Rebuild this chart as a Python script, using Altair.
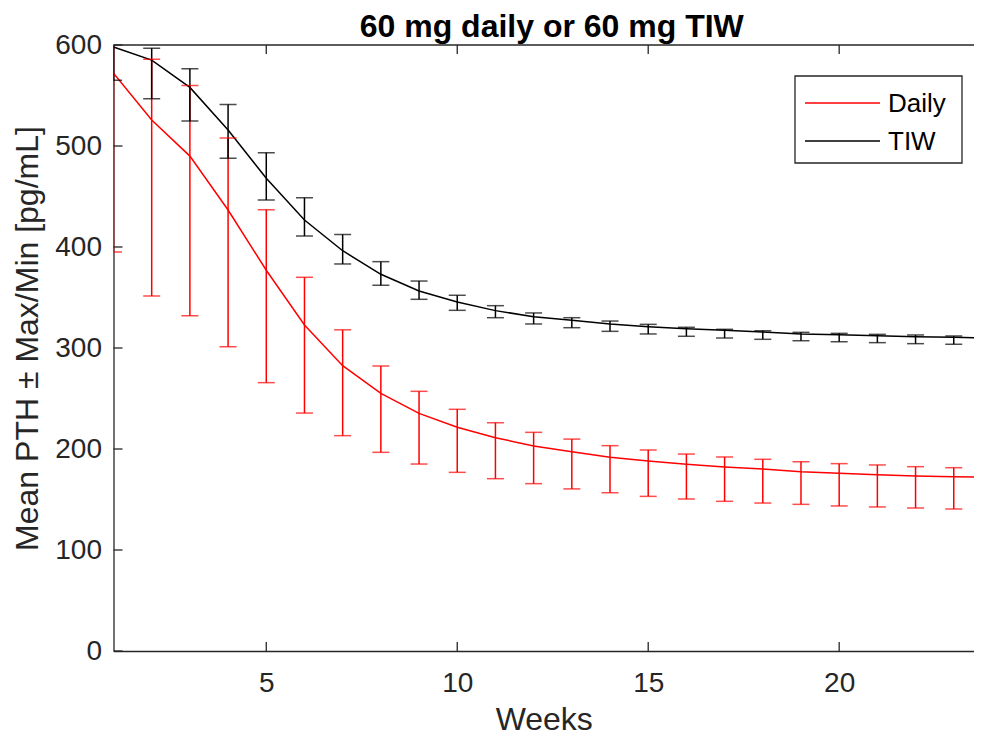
import altair as alt
import pandas as pd

# ---- data ----
weeks = list(range(1, 24))
daily_mean = [572, 525.7, 490, 436.6, 377, 322.8, 282.5, 255.1, 235.3, 221.5, 211.2, 203.0,
              197.2, 191.8, 188.1, 184.8, 182.2, 180.2, 177.5, 175.9, 174.6, 173.3, 172.6]
daily_upper = [610, 585.8, 560, 508, 437, 370, 318, 282.2, 257.1, 239.3, 226, 216.5,
               209.8, 203.3, 199, 195, 192.1, 189.8, 187.4, 185.5, 184.2, 182.5, 181.5]
daily_lower = [395, 351.5, 332, 301.3, 265.7, 235.6, 213.2, 196.7, 185.1, 176.9, 170.6, 165.7,
               160.5, 156.7, 153.1, 150.5, 148.2, 146.5, 145.2, 143.6, 142.6, 141.6, 140.6]
tiw_mean = [598, 585, 558, 515.8, 468, 426.7, 396.3, 373, 356.4, 345.5, 337, 331,
            327.5, 323.8, 321.1, 319.1, 317.5, 315.8, 313.9, 313.2, 312.2, 311.2, 310.6]
tiw_upper = [630, 596.7, 576.5, 541, 493.4, 448.8, 412.5, 385.5, 366.3, 352.2, 341.9, 334.7,
             330, 326.7, 323.4, 320.5, 318.5, 317.1, 315.5, 314.5, 313.5, 312.9, 311.9]
tiw_lower = [565, 546.9, 524.8, 487.8, 446.5, 410.9, 383.2, 362.1, 348.2, 337.3, 330, 323.8,
             320.1, 316.5, 313.9, 311.6, 309.9, 308.6, 307.2, 306.2, 305.3, 304.3, 303.7]
end_week = 24
daily_end = 171.8
tiw_end = 309.8

series_names = ["Daily", "TIW"]
series_colors = ["#ff0000", "#000000"]
x_tick_values = [5, 10, 15, 20]
y_tick_values = [0, 100, 200, 300, 400, 500, 600]

# ---- tables ----
line_df = pd.DataFrame({
    "Week": weeks + [end_week] + weeks + [end_week],
    "Value": daily_mean + [daily_end] + tiw_mean + [tiw_end],
    "Series": ["Daily"] * (len(weeks) + 1) + ["TIW"] * (len(weeks) + 1),
})
bar_df = pd.DataFrame({
    "Week": weeks + weeks,
    "Upper": daily_upper + tiw_upper,
    "Lower": daily_lower + tiw_lower,
    "Series": ["Daily"] * len(weeks) + ["TIW"] * len(weeks),
})
cap_df = pd.concat([
    bar_df[["Week", "Series"]].assign(Cap=bar_df["Upper"]),
    bar_df[["Week", "Series"]].assign(Cap=bar_df["Lower"]),
], ignore_index=True)

W = 860.5
H = 606
FONT = "Liberation Sans"
AX = "#262626"

xscale = alt.Scale(domain=[1, 23.53], nice=False, zero=False)
yscale = alt.Scale(domain=[0, 600], nice=False)
cscale = alt.Scale(domain=series_names, range=series_colors)

x_axis = alt.Axis(title="Weeks", values=x_tick_values, format="d")
y_axis = alt.Axis(title="Mean PTH ± Max/Min [pg/mL]", values=y_tick_values, format="d",
                  titleY=293)

lines = alt.Chart(line_df).mark_line(strokeWidth=1.5, clip=True).encode(
    x=alt.X("Week:Q", scale=xscale, axis=x_axis),
    y=alt.Y("Value:Q", scale=yscale, axis=y_axis),
    color=alt.Color("Series:N", scale=cscale, sort=series_names, legend=None),
)

bars = alt.Chart(bar_df).mark_rule(strokeWidth=1.5, clip=True).encode(
    x=alt.X("Week:Q", scale=xscale, axis=x_axis),
    y=alt.Y("Lower:Q", scale=yscale, axis=y_axis),
    y2="Upper:Q",
    color=alt.Color("Series:N", scale=cscale, legend=None),
)

caps = alt.Chart(cap_df).mark_tick(orient="horizontal", size=17, thickness=1.5, clip=True).encode(
    x=alt.X("Week:Q", scale=xscale, axis=x_axis),
    y=alt.Y("Cap:Q", scale=yscale, axis=y_axis),
    color=alt.Color("Series:N", scale=cscale, legend=None),
)

# axes box decorations (MATLAB style inward ticks and top border)
top_border = alt.Chart(pd.DataFrame({"k": [0]})).mark_rule(color=AX, strokeWidth=1.3).encode(
    x=alt.value(0), x2=alt.value(W), y=alt.value(0)
)
xt_df = pd.DataFrame({"t": x_tick_values})
xticks_bottom = alt.Chart(xt_df).mark_rule(color=AX, strokeWidth=1.3).encode(
    x=alt.X("t:Q", scale=xscale, axis=x_axis), y=alt.value(H), y2=alt.value(H - 9)
)
xticks_top = alt.Chart(xt_df).mark_rule(color=AX, strokeWidth=1.3).encode(
    x=alt.X("t:Q", scale=xscale, axis=x_axis), y=alt.value(0), y2=alt.value(9)
)
yt_df = pd.DataFrame({"v": y_tick_values})
yticks_left = alt.Chart(yt_df).mark_rule(color=AX, strokeWidth=1.3).encode(
    y=alt.Y("v:Q", scale=yscale, axis=y_axis), x=alt.value(0), x2=alt.value(9)
)

# legend drawn in the MATLAB style (box in the upper right of the axes)
LEG_X0, LEG_X1, LEG_Y0, LEG_Y1 = 681.5, 848.5, 31, 118
row_y = [58, 96]
legend_layers = [
    alt.Chart(pd.DataFrame({"k": [0]})).mark_rect(
        fill="white", stroke=AX, strokeWidth=1.3
    ).encode(x=alt.value(LEG_X0), x2=alt.value(LEG_X1), y=alt.value(LEG_Y0), y2=alt.value(LEG_Y1))
]
for name, col, yy in zip(series_names, series_colors, row_y):
    one = pd.DataFrame({"Series": [name]})
    legend_layers.append(
        alt.Chart(one).mark_rule(color=col, strokeWidth=1.5).encode(
            x=alt.value(LEG_X0 + 10), x2=alt.value(LEG_X0 + 85), y=alt.value(yy)
        )
    )
    legend_layers.append(
        alt.Chart(one).mark_text(
            align="left", baseline="middle", font=FONT, fontSize=26, color="black"
        ).encode(x=alt.value(LEG_X0 + 93), y=alt.value(yy + 1), text="Series:N")
    )

chart = alt.layer(
    lines, bars, caps, top_border, xticks_bottom, xticks_top, yticks_left, *legend_layers
).properties(
    width=W, height=H,
    autosize=alt.AutoSizeParams(type="none"),
    padding={"left": 105.5, "top": 37, "right": 0, "bottom": 86},
    title=alt.TitleParams("60 mg daily or 60 mg TIW", fontSize=32, fontWeight="bold",
                          font=FONT, color="black", offset=-13, dx=8, anchor="middle"),
).configure_view(stroke=None).configure_axis(
    grid=False, ticks=False, tickSize=0,
    domainColor=AX, domainWidth=1.3,
    labelFont=FONT, labelFontSize=28, labelColor=AX,
    titleFont=FONT, titleFontSize=32, titleFontWeight="normal", titleColor=AX,
).configure_axisX(labelPadding=18.7, titlePadding=7).configure_axisY(
    labelPadding=12, titlePadding=10
)

chart.save("out.html", embed_options={"renderer": "svg", "actions": False})
